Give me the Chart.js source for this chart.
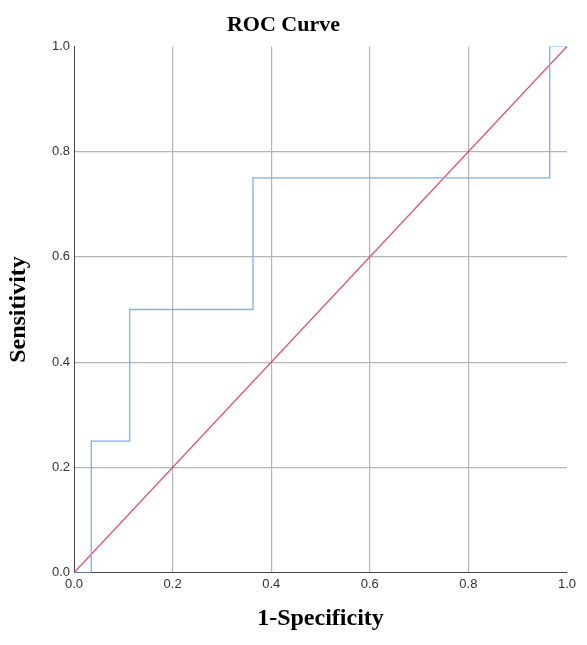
<!DOCTYPE html>
<html><head><meta charset="utf-8">
<script src="https://cdn.jsdelivr.net/npm/chart.js@4"></script>
<style>html,body{margin:0;padding:0;background:#fff}#w{width:587px;height:645px}</style>
</head><body><div id="w"><canvas id="c"></canvas></div>
<script>
const rocX = [0, 0.035, 0.035, 0.113, 0.113, 0.363, 0.363, 0.965, 0.965, 1];
const rocY = [0, 0, 0.25, 0.25, 0.5, 0.5, 0.75, 0.75, 1, 1];
const refX = [0, 1];
const refY = [0, 1];
const tickVals = [0, 0.2, 0.4, 0.6, 0.8, 1.0];
const toPts = (xs, ys) => xs.map((x, i) => ({x, y: ys[i]}));
new Chart(document.getElementById('c'), {
  type: 'scatter',
  data: { datasets: [
    { data: toPts(rocX, rocY), showLine: true, borderColor: '#7aaef5', borderWidth: 1.3, pointRadius: 0, fill: false },
    { data: toPts(refX, refY), showLine: true, borderColor: '#e8436e', borderWidth: 1.3, pointRadius: 0, fill: false }
  ]},
  options: {
    responsive: true, maintainAspectRatio: false, animation: false,
    layout: { padding: { left: 0, right: 20, top: 0, bottom: 8 } },
    plugins: {
      legend: { display: false }, tooltip: { enabled: false },
      title: { display: true, text: 'ROC Curve', color: '#000', font: { family: 'Liberation Serif', size: 22, weight: 'bold' }, padding: { top: 12, bottom: 8 } }
    },
    scales: {
      x: { type: 'linear', min: 0, max: 1,
        afterBuildTicks: s => { s.ticks = tickVals.map(v => ({value: v})); },
        ticks: { color: '#333', font: { family: 'Liberation Sans', size: 13 }, callback: v => v.toFixed(1), padding: 4 },
        grid: { color: ctx => (ctx.tick.value === 0 || ctx.tick.value === 1) ? 'rgba(0,0,0,0)' : '#b5b5b5', drawTicks: false, lineWidth: 1.2 },
        border: { color: '#444', width: 1 },
        title: { display: true, text: '1-Specificity', color: '#000', font: { family: 'Liberation Serif', size: 24, weight: 'bold' }, padding: { top: 8 } }
      },
      y: { type: 'linear', min: 0, max: 1,
        afterBuildTicks: s => { s.ticks = tickVals.map(v => ({value: v})); },
        afterFit: s => { s.width = 74; },
        ticks: { color: '#333', font: { family: 'Liberation Sans', size: 13 }, callback: v => v.toFixed(1), padding: 4 },
        grid: { color: ctx => (ctx.tick.value === 0 || ctx.tick.value === 1) ? 'rgba(0,0,0,0)' : '#b5b5b5', drawTicks: false, lineWidth: 1.2 },
        border: { color: '#444', width: 1 },
        title: { display: true, text: 'Sensitivity', color: '#000', font: { family: 'Liberation Serif', size: 24, weight: 'bold' }, padding: { bottom: 6 } }
      }
    }
  }
});
</script></body></html>
